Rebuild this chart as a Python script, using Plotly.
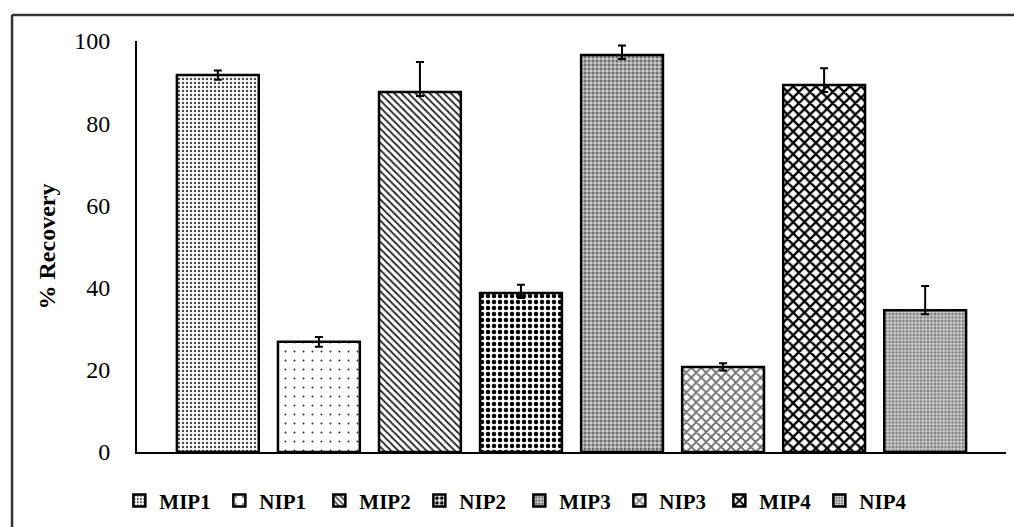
import plotly.graph_objects as go

categories = ["MIP1", "NIP1", "MIP2", "NIP2", "MIP3", "NIP3", "MIP4", "NIP4"]
recovery = [91.7, 26.8, 87.6, 38.7, 96.6, 20.7, 89.3, 34.5]
err_plus = [1.1, 1.2, 7.3, 2.0, 2.3, 0.9, 4.1, 5.9]
err_minus = [1.1, 1.2, 1.0, 1.2, 1.0, 0.9, 1.7, 1.0]
y_ticks = [0, 20, 40, 60, 80, 100]

# pattern style per bar (shape, fg colour, bg colour, size, solidity)
patterns = [
    dict(shape=".", fgcolor="#444444", bgcolor="white", size=4, solidity=0.28),
    dict(shape=".", fgcolor="#333333", bgcolor="white", size=9, solidity=0.04),
    dict(shape="\\", fgcolor="#222222", bgcolor="white", size=5, solidity=0.35),
    dict(shape=".", fgcolor="#000000", bgcolor="white", size=6, solidity=0.45),
    dict(shape="+", fgcolor="white", bgcolor="#6e6e6e", size=4, solidity=0.35),
    dict(shape="x", fgcolor="#6a6a6a", bgcolor="white", size=7, solidity=0.45),
    dict(shape="x", fgcolor="#000000", bgcolor="white", size=8, solidity=0.5),
    dict(shape="+", fgcolor="white", bgcolor="#7e7e7e", size=3.5, solidity=0.35),
]

font_family = "Liberation Serif, Times New Roman, serif"

fig = go.Figure()
for i, name in enumerate(categories):
    p = patterns[i]
    fig.add_trace(go.Bar(
        x=[name], y=[recovery[i]], name=name, width=0.81,
        marker=dict(
            color=p["bgcolor"],
            line=dict(color="black", width=2.5),
            pattern=dict(shape=p["shape"], fgcolor=p["fgcolor"], bgcolor=p["bgcolor"],
                         size=p["size"], solidity=p["solidity"], fillmode="replace"),
        ),
        error_y=dict(type="data", symmetric=False, array=[err_plus[i]],
                     arrayminus=[err_minus[i]], color="black", thickness=2, width=4),
    ))

border = dict(color="#333333", width=2.5)
fig.update_layout(
    width=1014, height=527,
    margin=dict(l=137, r=8, t=41, b=75, autoexpand=False),
    paper_bgcolor="white", plot_bgcolor="white",
    barmode="overlay",
    font=dict(family=font_family, color="black", size=22),
    showlegend=True,
    legend=dict(orientation="h", x=0.44, xanchor="center", y=-0.119, yanchor="middle",
                font=dict(family=font_family, size=21, color="black", weight="bold"),
                entrywidth=55, entrywidthmode="pixels", traceorder="normal",
                itemclick=False),
    xaxis=dict(categoryorder="array", categoryarray=categories, range=[-0.8, 7.8],
               showticklabels=False, ticks="", showgrid=False, zeroline=False,
               showline=True, linecolor="black", linewidth=2),
    yaxis=dict(range=[0, 100], tickvals=y_ticks, ticks="", showgrid=False, zeroline=False,
               showline=True, linecolor="black", linewidth=2,
               tickfont=dict(size=24, family=font_family), ticklabelstandoff=20,
               title=dict(text="<b>% Recovery</b>", font=dict(size=24, family=font_family),
                          standoff=12)),
    shapes=[
        dict(type="line", xref="paper", yref="paper", x0=-0.1438, x1=1.1,
             y0=1.0633, y1=1.0633, line=border, layer="below"),
        dict(type="line", xref="paper", yref="paper", x0=-0.1438, x1=-0.1438,
             y0=-0.3, y1=1.0633, line=border, layer="below"),
    ],
)

fig.write_html(
    "out.html",
    config={"displayModeBar": False},
    post_script="document.body.style.margin='0';document.body.style.overflow='hidden';"
                "document.documentElement.style.overflow='hidden';",
)
